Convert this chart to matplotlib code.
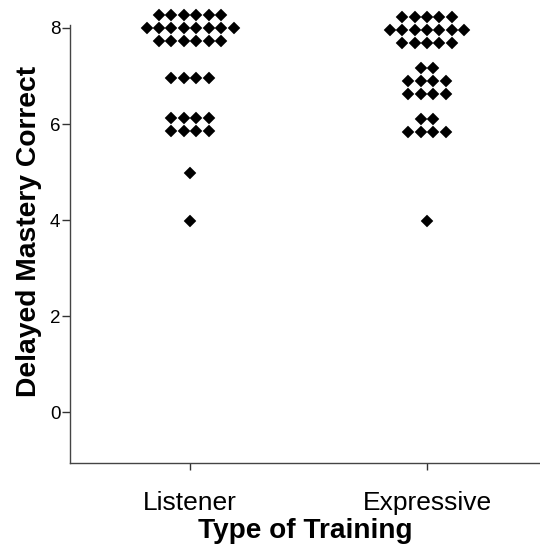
import numpy as np
import matplotlib.pyplot as plt

plt.rcParams['font.family'] = ['Liberation Sans', 'DejaVu Sans']

# categories and binned scores (dot plot, one dot per participant)
categories = ['Listener', 'Expressive']

listener_levels = [8.0, 6.95, 6.0, 4.97, 3.98]
listener_rows = [[6, 8, 6], [4], [4, 4], [1], [1]]

expressive_levels = [7.96, 6.89, 5.975, 3.97]
expressive_rows = [[5, 7, 5], [2, 4, 4], [2, 4], [1]]

dx = 0.0525      # horizontal gap between stacked dots (category units)
row_gap = 0.27   # vertical gap between dot rows (score units)


def stack(cat, levels, rows):
    xs, ys = [], []
    for lev, rr in zip(levels, rows):
        n = len(rr)
        for i, k in enumerate(rr):
            y = lev + ((n - 1) / 2 - i) * row_gap
            x = cat + (np.arange(k) - (k - 1) / 2) * dx
            xs.extend(x)
            ys.extend([y] * k)
    return xs, ys


fig = plt.figure(figsize=(5.4, 5.52), dpi=100)
ax = fig.add_axes([0.13, 0.1612, 0.87, 0.8388])

for cat, levs, rows in [(0, listener_levels, listener_rows),
                        (1, expressive_levels, expressive_rows)]:
    xs, ys = stack(cat, levs, rows)
    ax.plot(xs, ys, linestyle='none', marker='D', ms=6.1,
            color='black', mec='black', mew=0.3)

ax.set_xlim(-0.506, 1.477)
ax.set_ylim(-1.06, 8.583)
ax.set_xticks([0, 1])
ax.set_xticklabels(categories, fontsize=19)
ax.set_yticks([0, 2, 4, 6, 8])
ax.tick_params(axis='y', labelsize=13.5, length=6, width=1.0,
               color='#333333', pad=1)
ax.tick_params(axis='x', length=5, width=1.0, color='#333333', pad=15.5)

for s in ['top', 'right']:
    ax.spines[s].set_visible(False)
for s in ['left', 'bottom']:
    ax.spines[s].set_color('#444444')
    ax.spines[s].set_linewidth(1.0)
ax.spines['left'].set_bounds(-1.06, 8.06)

ax.set_xlabel('Type of Training', fontsize=20.2, fontweight='bold', labelpad=2)
ax.set_ylabel('Delayed Mastery Correct', fontsize=20.3, fontweight='bold',
              labelpad=6)

fig.savefig('out.png', dpi=100)
